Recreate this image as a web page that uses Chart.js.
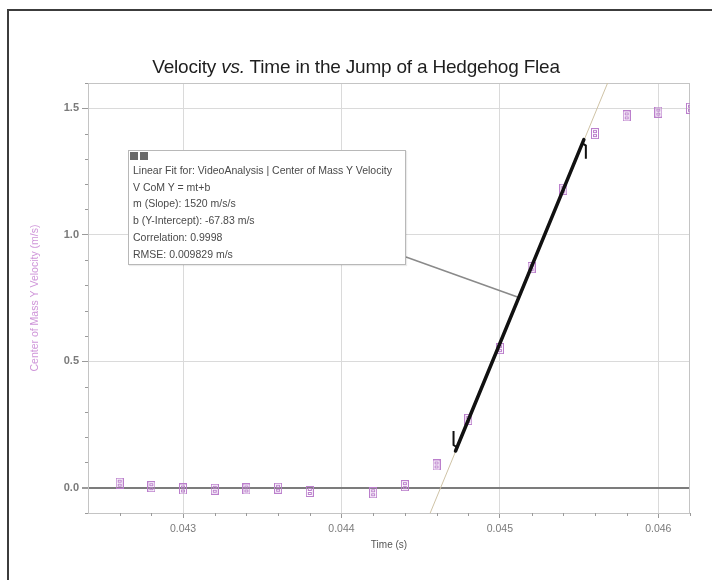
<!DOCTYPE html>
<html>
<head>
<meta charset="utf-8">
<title>Velocity vs. Time in the Jump of a Hedgehog Flea</title>
<script src="https://cdn.jsdelivr.net/npm/chart.js@4.4.1/dist/chart.umd.min.js"></script>
<style>
  html, body { margin: 0; padding: 0; background: #fff; }
  body { width: 712px; height: 580px; position: relative; overflow: hidden; font-family: 'Liberation Sans', Arial, sans-serif; }
  #frame { position: absolute; left: 7px; top: 9px; width: 900px; height: 900px; border: 2px solid #3c3c3c; box-sizing: border-box; }
  #title { position: absolute; left: 0; top: 56px; width: 712px; text-align: center; font-size: 19px; color: #1e1e1e; letter-spacing: -0.2px; }
  #chart { position: absolute; left: 0; top: 0; }
  #fitbox { position: absolute; left: 128px; top: 150px; width: 276px; height: 113px; border: 1px solid #b8b8b8; background: #fff; color: #4a4a4a; font-size: 10.5px; box-shadow: 1px 1px 1px rgba(0,0,0,0.08); }
  #fitbox .icon { position: absolute; left: 1px; top: 1px; display: flex; gap: 2px; }
  #fitbox .icon span { display: block; width: 8px; height: 8px; background: #6a6a6a; }
  #fitbox .lines { position: absolute; left: 4px; top: 11px; line-height: 16.7px; white-space: nowrap; }
</style>
</head>
<body>
<div id="frame"></div>
<canvas id="chart" width="712" height="580"></canvas>
<div id="title">Velocity <i>vs.</i> Time in the Jump of a Hedgehog Flea</div>
<div id="fitbox"><div class="icon"><span></span><span></span></div><div class="lines"></div></div>
<script>
// measured points (s, m/s)
const timeS = [0.0426, 0.0428, 0.0430, 0.0432, 0.0434, 0.0436, 0.0438, 0.0442, 0.0444,
  0.0446, 0.0448, 0.0450, 0.0452, 0.0454, 0.0456, 0.0458, 0.0460, 0.0462];
const velocityY = [0.018, 0.004, -0.005, -0.006, -0.005, -0.002, -0.015, -0.02, 0.008,
  0.09, 0.27, 0.55, 0.87, 1.18, 1.40, 1.47, 1.485, 1.50];

// linear fit: selected range and the extended line
const fitRangeT = [0.04472, 0.04553];
const fitRangeV = [0.145, 1.376];
const fitLineT = [0.04456, 0.04568];
const fitLineV = [-0.1, 1.6];
const fitLabelAt = { x: 0.04512, y: 0.752 };

const xTicks = [0.043, 0.044, 0.045, 0.046];
const yTicks = [0.0, 0.5, 1.0, 1.5];

const fitText = [
  'Linear Fit for: VideoAnalysis | Center of Mass Y Velocity',
  'V CoM Y = mt+b',
  'm (Slope): 1520 m/s/s',
  'b (Y-Intercept): -67.83 m/s',
  'Correlation: 0.9998',
  'RMSE: 0.009829 m/s',
];

document.querySelector('#fitbox .lines').innerHTML =
  fitText.map(t => '<div>' + t + '</div>').join('');

function boxMarker() {
  const c = document.createElement('canvas');
  c.width = 8; c.height = 11;
  const g = c.getContext('2d');
  g.strokeStyle = '#bb7fcc';
  g.lineWidth = 1;
  g.strokeRect(0.5, 0.5, 7, 10);
  g.strokeRect(2.5, 2.5, 3, 2);
  g.strokeRect(2.5, 6.5, 3, 2);
  return c;
}

const toXY = (xs, ys) => xs.map((x, i) => ({ x, y: ys[i] }));

// plot frame, minor ticks, fit brackets and the callout line
const extras = {
  id: 'extras',
  beforeDatasetsDraw(chart) {
    const { ctx, chartArea: a, scales: { x, y } } = chart;
    ctx.save();
    ctx.strokeStyle = '#c4c4c4';
    ctx.lineWidth = 1;
    ctx.strokeRect(a.left + 0.5, a.top + 0.5, a.right - a.left - 1, a.bottom - a.top);
    ctx.strokeStyle = '#9a9a9a';
    ctx.beginPath();
    for (let v = -0.1; v <= 1.6001; v += 0.1) {
      if (Math.abs(v * 2 - Math.round(v * 2)) < 1e-6) continue;
      const py = Math.round(y.getPixelForValue(v)) + 0.5;
      ctx.moveTo(a.left - 3, py); ctx.lineTo(a.left, py);
    }
    for (let v = 0.0426; v <= 0.04621; v += 0.0002) {
      if (Math.abs(v * 1000 - Math.round(v * 1000)) < 1e-6) continue;
      const px = Math.round(x.getPixelForValue(v)) + 0.5;
      ctx.moveTo(px, a.bottom); ctx.lineTo(px, a.bottom + 3);
    }
    ctx.stroke();
    // callout from the fit box
    const box = document.getElementById('fitbox');
    const bx = box.offsetLeft + box.offsetWidth;
    const by = box.offsetTop + box.offsetHeight - 8;
    ctx.strokeStyle = '#8a8a8a';
    ctx.lineWidth = 1.5;
    ctx.beginPath();
    ctx.moveTo(bx, by);
    ctx.lineTo(x.getPixelForValue(fitLabelAt.x), y.getPixelForValue(fitLabelAt.y));
    ctx.stroke();
    ctx.restore();
  },
  afterDatasetsDraw(chart) {
    const { ctx, scales: { x, y } } = chart;
    ctx.save();
    ctx.strokeStyle = '#111';
    ctx.lineWidth = 2;
    const x0 = x.getPixelForValue(fitRangeT[0]), y0 = y.getPixelForValue(fitRangeV[0]);
    const x1 = x.getPixelForValue(fitRangeT[1]), y1 = y.getPixelForValue(fitRangeV[1]);
    ctx.beginPath();
    ctx.moveTo(x0 + 1, y0 - 4); ctx.lineTo(x0 - 2, y0 - 6); ctx.lineTo(x0 - 2, y0 - 20);
    ctx.moveTo(x1 - 1, y1 + 4); ctx.lineTo(x1 + 2, y1 + 6); ctx.lineTo(x1 + 2, y1 + 19);
    ctx.stroke();
    ctx.restore();
  },
};

new Chart(document.getElementById('chart'), {
  type: 'scatter',
  data: {
    datasets: [
      {
        label: 'fit range',
        type: 'line',
        order: 0,
        data: toXY(fitRangeT, fitRangeV),
        borderColor: '#111111',
        borderWidth: 3.5,
        borderCapStyle: 'round',
        pointRadius: 0,
      },
      {
        label: 'Center of Mass Y Velocity',
        order: 1,
        data: toXY(timeS, velocityY),
        pointStyle: boxMarker(),
        pointRadius: 4,
      },
      {
        label: 'fit line',
        type: 'line',
        order: 2,
        data: toXY(fitLineT, fitLineV),
        borderColor: '#cfc3a6',
        borderWidth: 1,
        pointRadius: 0,
      },
    ],
  },
  plugins: [extras],
  options: {
    responsive: false,
    animation: false,
    devicePixelRatio: 1,
    layout: { padding: { left: 17, top: 83, right: 22, bottom: 25 } },
    plugins: { legend: { display: false }, tooltip: { enabled: false } },
    scales: {
      x: {
        type: 'linear',
        min: 0.0424,
        max: 0.0462,
        afterFit: s => { s.height = 42; },
        afterBuildTicks: s => { s.ticks = xTicks.map(value => ({ value })); },
        border: { display: false },
        grid: { color: '#dadada', tickColor: '#9a9a9a', tickLength: 5 },
        ticks: {
          color: '#7a7a7a',
          font: { family: 'Liberation Sans', size: 10.5 },
          padding: 5,
          maxRotation: 0,
          callback: v => v.toFixed(3),
        },
        title: {
          display: true,
          text: 'Time (s)',
          color: '#555',
          font: { family: 'Liberation Sans', size: 10 },
          padding: { top: 0, bottom: 4 },
        },
      },
      y: {
        min: -0.1,
        max: 1.6,
        afterFit: s => { s.width = 71; },
        afterBuildTicks: s => { s.ticks = yTicks.map(value => ({ value })); },
        border: { display: false },
        grid: {
          color: c => (c.tick && c.tick.value === 0 ? '#7c7c7c' : '#dadada'),
          lineWidth: c => (c.tick && c.tick.value === 0 ? 2 : 1),
          tickColor: '#9a9a9a',
          tickLength: 6,
        },
        ticks: {
          color: '#7a7a7a',
          font: { family: 'Liberation Sans', size: 11, weight: 'bold' },
          padding: 3,
          callback: v => v.toFixed(1),
        },
        title: {
          display: true,
          text: 'Center of Mass Y Velocity (m/s)',
          color: '#cf95d9',
          font: { family: 'Liberation Sans', size: 10.5 },
          padding: { top: 12, bottom: 0 },
        },
      },
    },
  },
});
</script>
</body>
</html>
